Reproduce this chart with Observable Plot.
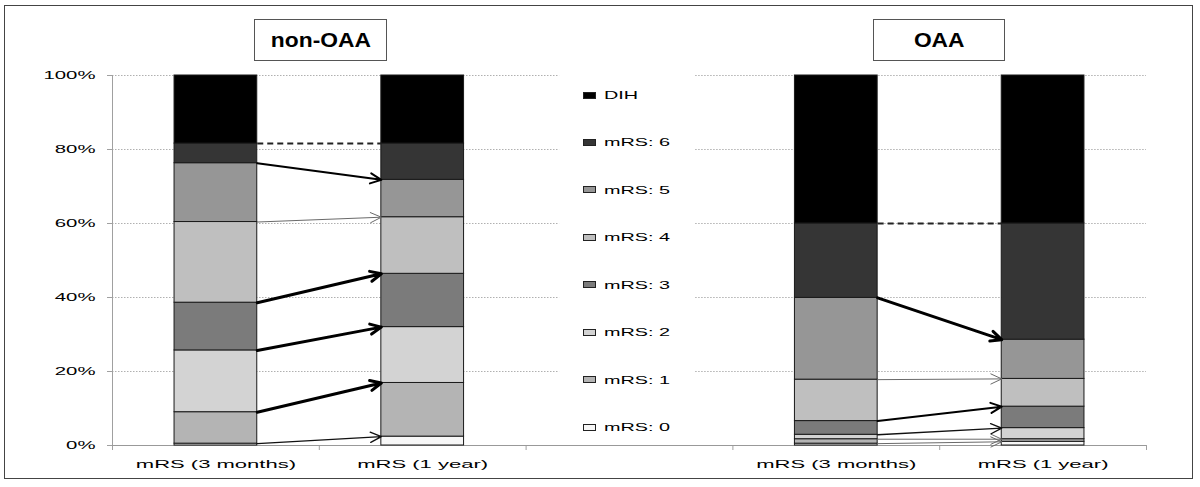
<!DOCTYPE html>
<html><head><meta charset="utf-8">
<script src="https://cdn.jsdelivr.net/npm/d3@7"></script>
<script src="https://cdn.jsdelivr.net/npm/@observablehq/plot@0.6"></script>
<style>
body{margin:0;background:#fff;font-family:"Liberation Sans",Arial,sans-serif;}
#wrap{position:relative;width:1200px;height:487px;overflow:hidden;background:#fff;}
#chart{position:absolute;left:0;top:0;}
#frame{position:absolute;left:4px;top:5px;width:1187px;height:472px;border:1.5px solid #444;pointer-events:none;}
.title{position:absolute;top:19px;height:40px;border:1.5px solid #555;background:#fff;display:flex;align-items:center;justify-content:center;font-weight:bold;font-size:20px;color:#000;}
.title span{display:inline-block;transform:scaleX(1.14);}
.item{position:absolute;left:583px;display:flex;align-items:center;font-size:11px;white-space:nowrap;height:12px;color:#000;}
.sw{width:11px;height:5px;border:1px solid #222;margin-right:8px;}
.item span{display:inline-block;transform:scaleX(1.8);transform-origin:left center;}
</style></head><body>
<div id="wrap"><div id="chart"></div><div id="frame"></div></div>
<script>
// ---- data ----
const groups = ["non-OAA", "OAA"];
const periods = ["mRS (3 months)", "mRS (1 year)"];
const categories = ["mRS: 0","mRS: 1","mRS: 2","mRS: 3","mRS: 4","mRS: 5","mRS: 6","DIH"];
const colors = ["#f7f7f7","#b4b4b4","#d3d3d3","#7b7b7b","#bfbfbf","#969696","#353535","#000000"];
const nonOAA_3m = [0.5, 8.5, 16.7, 12.9, 21.8, 15.9, 5.3, 18.4];
const nonOAA_1y = [2.4, 14.5, 15.1, 14.4, 15.3, 10.1, 9.8, 18.4];
const OAA_3m = [0.5, 1.2, 1.2, 3.7, 11.2, 22.1, 20.1, 40.0];
const OAA_1y = [1.0, 0.7, 3.0, 5.8, 7.5, 10.6, 31.4, 40.0];
const yTicks = [0, 20, 40, 60, 80, 100];

// ---- layout ----
const series = [[nonOAA_3m, nonOAA_1y], [OAA_3m, OAA_1y]];
const half = 0.2;
const leftGridEnd = 2.162, rightGridStart = 2.82;
const segs = [], arrows = [], dashes = [], labels = [];
series.forEach((pair, g) => {
  const cums = pair.map(v => Array.from(d3.cumsum(v)));
  pair.forEach((vals, p) => {
    const c = g * 3 + p + 0.5;
    labels.push({x: c, label: periods[p]});
    vals.forEach((v, k) => {
      segs.push({x1: c - half, x2: c + half, y1: k ? cums[p][k - 1] : 0, y2: cums[p][k], cat: categories[k], group: groups[g]});
    });
  });
  for (let k = 0; k < categories.length - 1; k++) {
    const row = {x1: g * 3 + 0.5 + half, x2: g * 3 + 1.5 - half, y1: cums[0][k], y2: cums[1][k]};
    if (k === categories.length - 2) dashes.push(row); else arrows.push(row);
  }
});
const cls = d => { const a = Math.abs(d.y2 - d.y1); return a < 1.5 ? 0 : a < 3 ? 1 : a < 6 ? 2 : 3; };
const arrowStyles = [
  {sw: 1, stroke: "#6a6a6a"},
  {sw: 1.4, stroke: "#111"},
  {sw: 2, stroke: "#000"},
  {sw: 3, stroke: "#000"}
];
const headPx = 12;
const arrowMarks = arrowStyles.map((s, i) => Plot.arrow(arrows.filter(d => cls(d) === i), {
  x1: "x1", y1: "y1", x2: "x2", y2: "y2", stroke: s.stroke, strokeWidth: s.sw,
  headLength: headPx * 1.5 / s.sw, headAngle: 50
}));
const labelOf = new Map(labels.map(d => [d.x, d.label]));

const plot = Plot.plot({
  width: 1200, height: 487,
  marginLeft: 112, marginRight: 54, marginTop: 75, marginBottom: 42,
  x: {domain: [0, 5], axis: null},
  y: {domain: [0, 100], axis: null},
  color: {domain: categories, range: colors},
  style: {fontFamily: "Liberation Sans, Arial, sans-serif", fontSize: "11px", color: "#000", background: "transparent"},
  marks: [
    Plot.ruleY(yTicks.filter(d => d > 0), {x1: 0, x2: leftGridEnd, stroke: "#b0b0b0", strokeDasharray: "1.5,1.5"}),
    Plot.ruleY(yTicks.filter(d => d > 0), {x1: rightGridStart, x2: 5, stroke: "#b0b0b0", strokeDasharray: "1.5,1.5"}),
    Plot.ruleX([0], {y1: 0, y2: 100, stroke: "#a0a0a0"}),
    Plot.axisY({ticks: yTicks, tickFormat: d => d + "%", tickSize: 5, tickPadding: 12, stroke: "#a0a0a0"}),
    Plot.axisX({ticks: [0, 1, 2, 3, 4, 5], tickSize: 5, tickFormat: () => "", stroke: "#a0a0a0"}),
    Plot.axisX({ticks: labels.map(d => d.x), tickFormat: d => labelOf.get(d), tickSize: 0, tickPadding: 15}),
    Plot.ruleY([0], {x1: 0, x2: 5, stroke: "#999"}),
    Plot.rect(segs, {x1: "x1", x2: "x2", y1: "y1", y2: "y2", fill: "cat", stroke: "#1a1a1a", strokeWidth: 1}),
    Plot.link(dashes, {x1: "x1", y1: "y1", x2: "x2", y2: "y2", stroke: "#222", strokeWidth: 2, strokeDasharray: "6,4"}),
    ...arrowMarks
  ]
});
const wrap = document.getElementById("wrap");
document.getElementById("chart").appendChild(plot);

// stretch axis text horizontally like the reference
function stretch(sel, f) {
  plot.querySelectorAll(sel).forEach(t => {
    const len = t.getComputedTextLength();
    if (len > 0) { t.setAttribute("textLength", len * f); t.setAttribute("lengthAdjust", "spacingAndGlyphs"); }
  });
}
stretch('g[aria-label="y-axis tick label"] text', 1.85);
stretch('g[aria-label="x-axis tick label"] text', 2.0);

// titles
const titleBoxes = [{left: 254, width: 131}, {left: 873, width: 130}];
groups.forEach((gname, i) => {
  const d = document.createElement("div");
  d.className = "title";
  d.style.left = titleBoxes[i].left + "px";
  d.style.width = titleBoxes[i].width + "px";
  const s = document.createElement("span"); s.textContent = gname; d.appendChild(s);
  wrap.appendChild(d);
});

// legend (top to bottom: DIH ... mRS: 0)
const legTop = 95, legStep = 47.43;
categories.slice().reverse().forEach((c, i) => {
  const d = document.createElement("div");
  d.className = "item";
  d.style.top = (legTop + i * legStep - 6) + "px";
  const sw = document.createElement("div"); sw.className = "sw";
  sw.style.background = colors[categories.indexOf(c)];
  const s = document.createElement("span"); s.textContent = c;
  d.appendChild(sw); d.appendChild(s);
  wrap.appendChild(d);
});
</script>
</body></html>
